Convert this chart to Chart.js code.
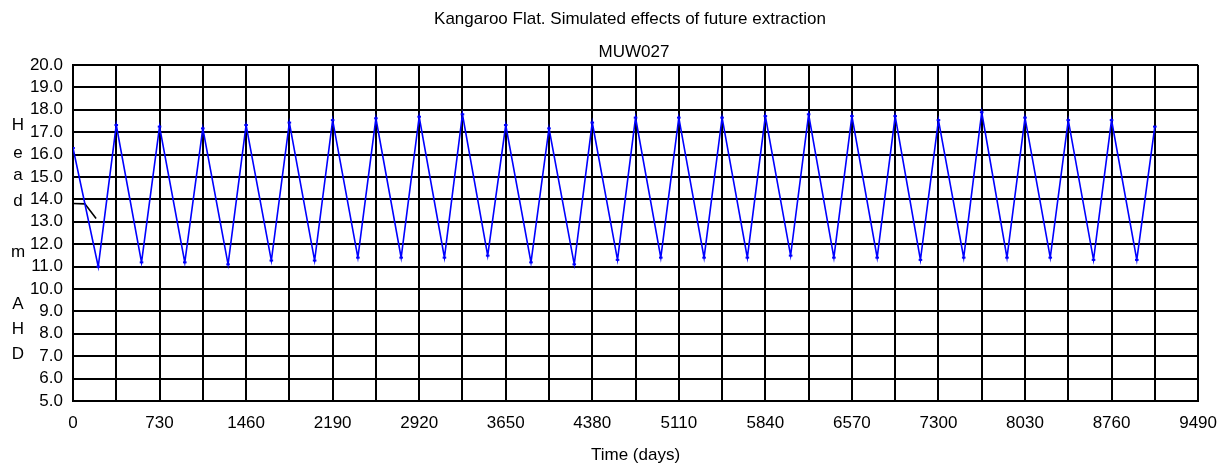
<!DOCTYPE html>
<html>
<head>
<meta charset="utf-8">
<script src="https://cdn.jsdelivr.net/npm/chart.js@4/dist/chart.umd.min.js"></script>
<style>
  html, body { margin: 0; padding: 0; background: #ffffff; }
  #wrap { width: 1229px; height: 467px; }
</style>
</head>
<body>
<div id="wrap"><canvas id="chart" width="1229" height="467"></canvas></div>
<script>
// Simulated head at bore MUW027 (m AHD) against time in days
const simDays = [
  0, 213, 365, 578, 730, 943, 1095, 1308, 1460, 1673, 1825, 2038, 2190, 2403,
  2555, 2768, 2920, 3133, 3285, 3498, 3650, 3863, 4015, 4228, 4380, 4593,
  4745, 4958, 5110, 5323, 5475, 5688, 5840, 6053, 6205, 6418, 6570, 6783,
  6935, 7148, 7300, 7513, 7665, 7878, 8030, 8243, 8395, 8608, 8760, 8973, 9125
];
const simHead = [
  16.3, 11.0, 17.32, 11.19, 17.25, 11.19, 17.17, 11.1, 17.32, 11.27, 17.43, 11.27,
  17.54, 11.4, 17.62, 11.4, 17.69, 11.4, 17.8, 11.49, 17.32, 11.19, 17.17, 11.1,
  17.43, 11.3, 17.65, 11.4, 17.65, 11.4, 17.65, 11.4, 17.72, 11.49, 17.8, 11.4,
  17.72, 11.4, 17.72, 11.3, 17.54, 11.4, 17.89, 11.4, 17.65, 11.4, 17.54, 11.3,
  17.54, 11.3, 17.25
];

// Short observed trace at the start of the record
const obsDays = [0, 100, 195];
const obsHead = [13.82, 13.8, 13.15];

// Axis settings
const xMin = 0, xMax = 9490, xGridStep = 365, xLabelStep = 730;
const yMin = 5, yMax = 20, yStep = 1;

const chartTitle = 'Kangaroo Flat. Simulated effects of future extraction';
const chartSubtitle = 'MUW027';
const xAxisTitle = 'Time (days)';
const yAxisLetters = ['H', 'e', 'a', 'd', 'm', 'A', 'H', 'D'];
const yAxisLetterBaselines = [129.5, 157.5, 180, 206, 257, 308.5, 333.5, 359];

const FONT = '"Liberation Sans", Arial, sans-serif';

const toXY = (xs, ys) => xs.map((x, i) => ({ x: x, y: ys[i] }));

// Draws the titles and the stacked y-axis caption
const captions = {
  id: 'captions',
  afterDraw(chart) {
    const ctx = chart.ctx;
    ctx.save();
    ctx.fillStyle = '#000000';
    ctx.font = '17px ' + FONT;
    ctx.textAlign = 'center';
    ctx.textBaseline = 'alphabetic';
    ctx.fillText(chartTitle, 630, 24);
    ctx.fillText(chartSubtitle, 634, 56.5);
    ctx.fillText(xAxisTitle, 635.5, 459.5);
    yAxisLetters.forEach((ch, i) => {
      ctx.fillText(ch, 18, yAxisLetterBaselines[i]);
    });
    ctx.restore();
  }
};

new Chart(document.getElementById('chart'), {
  type: 'scatter',
  data: {
    datasets: [
      {
        label: 'Simulated head',
        data: toXY(simDays, simHead),
        showLine: true,
        borderColor: '#0000ff',
        backgroundColor: '#0000ff',
        borderWidth: 1.6,
        pointStyle: 'line',
        pointRadius: 1.8,
        pointBorderWidth: 2,
        pointBorderColor: '#0000ff',
        tension: 0,
        order: 1
      },
      {
        label: 'Observed head',
        data: toXY(obsDays, obsHead),
        showLine: true,
        borderColor: '#000000',
        borderWidth: 1.6,
        pointRadius: 0,
        tension: 0,
        order: 2
      }
    ]
  },
  options: {
    responsive: false,
    animation: false,
    devicePixelRatio: 1,
    layout: { padding: { top: 65, right: 30, left: 0, bottom: 0 } },
    plugins: {
      legend: { display: false },
      title: { display: false },
      tooltip: { enabled: false }
    },
    scales: {
      x: {
        type: 'linear',
        min: xMin,
        max: xMax,
        afterFit(scale) { scale.height = 66; },
        border: { display: true, color: '#000000', width: 2 },
        grid: { color: '#000000', lineWidth: 2, drawTicks: false },
        ticks: {
          stepSize: xGridStep,
          autoSkip: false,
          maxRotation: 0,
          padding: 12,
          color: '#000000',
          font: { family: FONT, size: 17 },
          callback: (v) => (v % xLabelStep === 0 ? String(v) : '')
        }
      },
      y: {
        type: 'linear',
        min: yMin,
        max: yMax,
        afterFit(scale) { scale.width = 73; },
        border: { display: true, color: '#000000', width: 2 },
        grid: { color: '#000000', lineWidth: 2, drawTicks: false },
        ticks: {
          stepSize: yStep,
          autoSkip: false,
          padding: 10,
          color: '#000000',
          font: { family: FONT, size: 17 },
          callback: (v) => Number(v).toFixed(1)
        }
      }
    }
  },
  plugins: [captions]
});
</script>
</body>
</html>
